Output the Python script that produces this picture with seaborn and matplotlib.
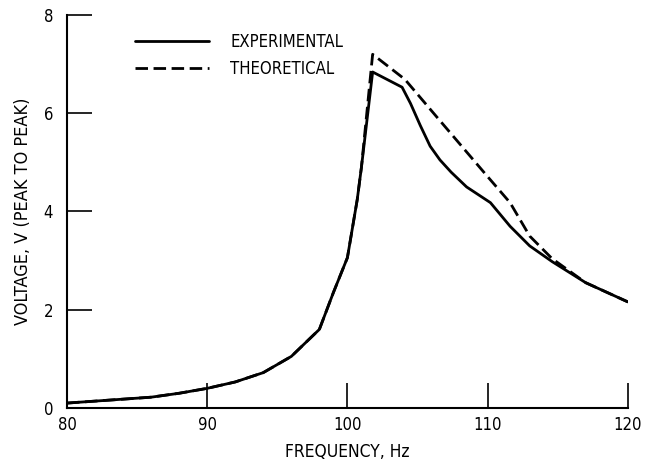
import numpy as np
import pandas as pd
import matplotlib
matplotlib.use("Agg")
import matplotlib.pyplot as plt
import seaborn as sns

# ---- data ----
freq_exp = [80, 82, 84, 86, 88, 90, 92, 94, 96, 98, 99, 100, 100.7, 101, 101.8,
            103.9, 104.5, 105.2, 105.9, 106.6, 107.4, 108.5, 110.2, 111.6, 113, 114.6, 117, 120]
volt_exp = [0.1, 0.14, 0.18, 0.22, 0.3, 0.4, 0.53, 0.72, 1.05, 1.6, 2.35, 3.06, 4.24, 4.9, 6.84,
            6.53, 6.2, 5.75, 5.33, 5.05, 4.8, 4.5, 4.18, 3.7, 3.3, 2.98, 2.55, 2.16]

freq_th = [80, 82, 84, 86, 88, 90, 92, 94, 96, 98, 99, 100, 100.7, 101, 101.8,
           104.1, 106, 108, 110, 111.6, 113, 114.6, 117, 120]
volt_th = [0.1, 0.14, 0.18, 0.22, 0.3, 0.4, 0.53, 0.72, 1.05, 1.6, 2.35, 3.06, 4.24, 4.9, 7.2,
           6.69, 6.05, 5.38, 4.71, 4.18, 3.5, 3.04, 2.55, 2.16]

x_ticks = [80, 90, 100, 110, 120]
y_ticks = [0, 2, 4, 6, 8]

df = pd.concat([
    pd.DataFrame({"freq": freq_exp, "volt": volt_exp, "series": "EXPERIMENTAL"}),
    pd.DataFrame({"freq": freq_th, "volt": volt_th, "series": "THEORETICAL"}),
])

sns.set_style("white")
plt.rcParams["font.family"] = ["DejaVu Sans"]
plt.rcParams["font.stretch"] = "condensed"
plt.rcParams["text.color"] = "black"
plt.rcParams["axes.labelcolor"] = "black"

fig = plt.figure(figsize=(6.54, 4.63), dpi=100)
ax = fig.add_axes([0.1024, 0.1188, 0.8576, 0.8488])

sns.lineplot(data=df, x="freq", y="volt", style="series", color="black",
             dashes={"EXPERIMENTAL": "", "THEORETICAL": (4.5, 2)},
             linewidth=2, sort=False, estimator=None, ax=ax)

ax.set_xlim(80, 120)
ax.set_ylim(0, 8)
ax.set_xticks(x_ticks)
ax.set_yticks(y_ticks)
ax.tick_params(bottom=True, left=True, direction="in", length=18, width=1.2,
               labelsize=12, colors="black")
ax.tick_params(axis="x", pad=6)
ax.tick_params(axis="y", pad=10)
for s in ["top", "right"]:
    ax.spines[s].set_visible(False)
for s in ["left", "bottom"]:
    ax.spines[s].set_color("black")
    ax.spines[s].set_linewidth(1.5)

ax.set_xlabel("FREQUENCY, Hz", fontsize=12.5, labelpad=6)
ax.set_ylabel("VOLTAGE, V (PEAK TO PEAK)", fontsize=13, labelpad=8)

leg = ax.legend(loc="upper left", bbox_to_anchor=(0.095, 0.993), frameon=False,
                handlelength=4.4, handletextpad=1.3, fontsize=12, labelspacing=0.55,
                title=None, labelcolor="black")

fig.savefig("out.png", dpi=100)
